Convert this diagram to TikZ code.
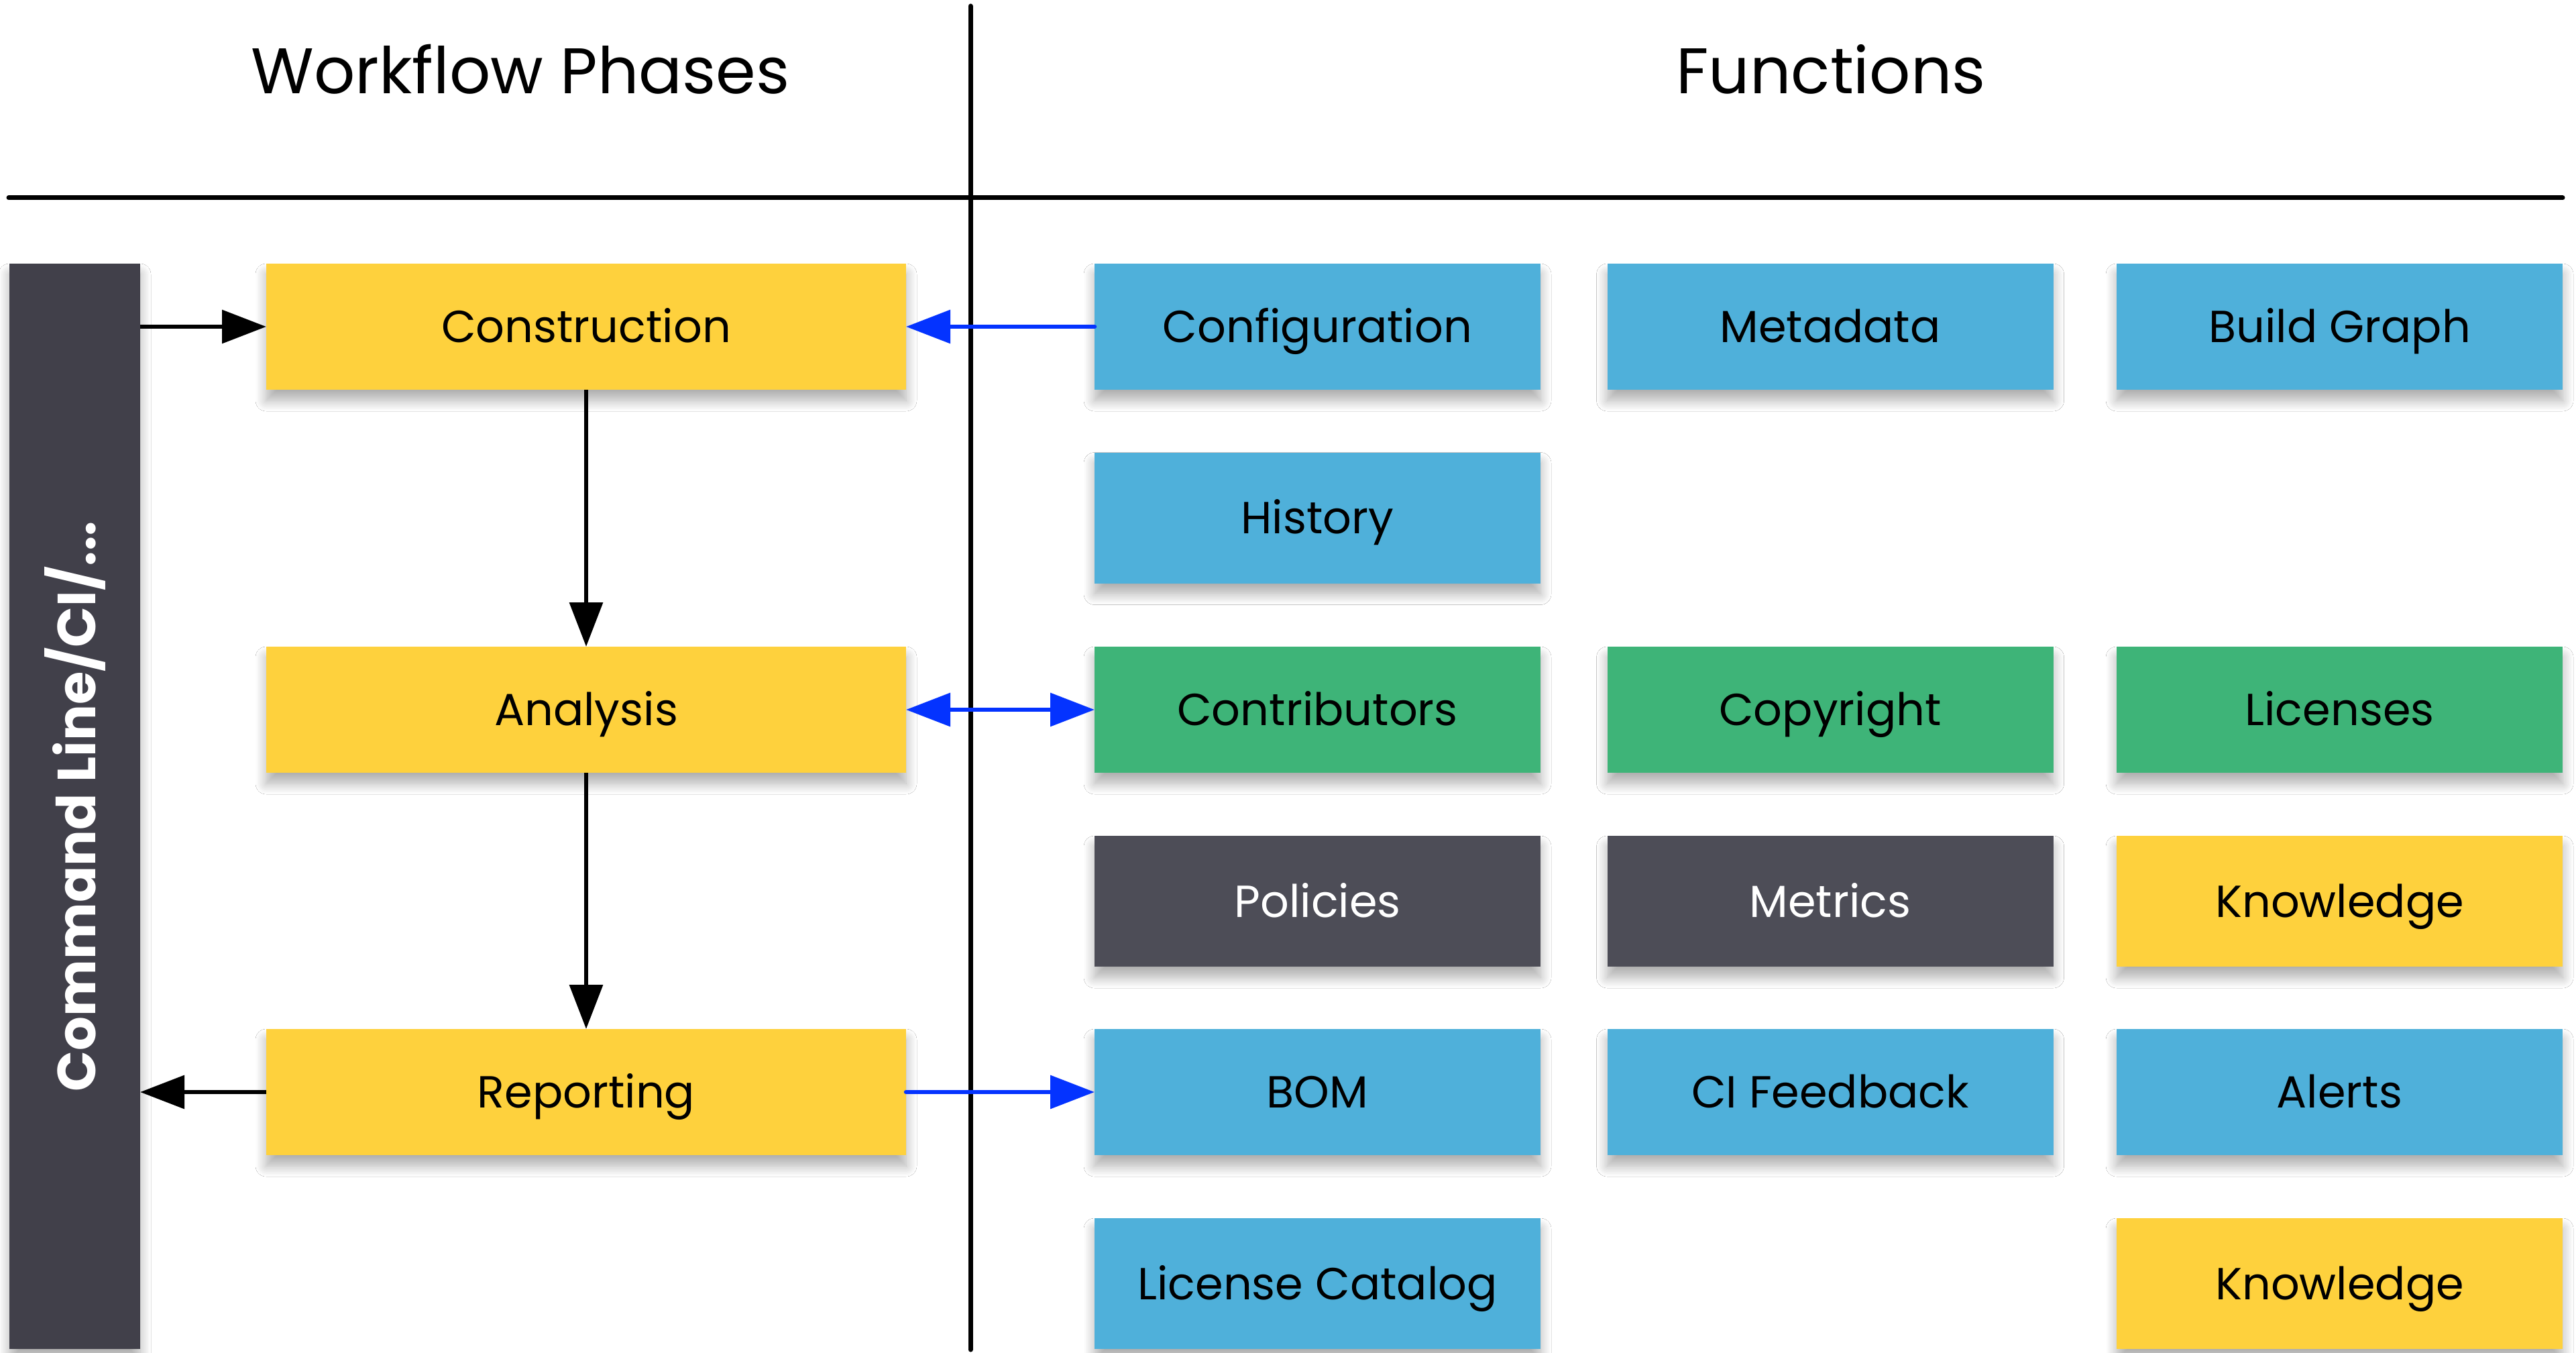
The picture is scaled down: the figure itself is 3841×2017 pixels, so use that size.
\documentclass[tikz,border=0pt]{standalone}
\usepackage{fontspec}
\setmainfont{Poppins}
\usetikzlibrary{arrows.meta}
\IfFileExists{tikzlibraryshadows.blur.code.tex}{%
  \usetikzlibrary{shadows.blur}%
  \tikzset{boxshade/.style={blur shadow={shadow xshift=0pt, shadow yshift=-16pt,
      shadow blur radius=16pt, shadow opacity=32, shadow blur steps=12}}}%
}{%
  \usetikzlibrary{shadows}%
  \tikzset{boxshade/.style={drop shadow={shadow xshift=0pt, shadow yshift=-12pt,
      opacity=0.2, fill=black}}}%
}

\definecolor{phaseyellow}{RGB}{254,209,61}
\definecolor{funcblue}{RGB}{79,176,218}
\definecolor{funcgreen}{RGB}{62,180,120}
\definecolor{funcdark}{RGB}{77,77,87}
\definecolor{bardark}{RGB}{65,64,74}
\definecolor{linkblue}{RGB}{4,51,255}

\tikzset{
  tile/.style={rectangle, inner sep=0pt, outer sep=0pt, boxshade,
    minimum width=665pt, minimum height=188pt,
    text height=47pt, text depth=0pt,
    font=\fontsize{67}{80}\selectfont, text=black},
  tall/.style={minimum height=195pt},
  phase/.style={tile, fill=phaseyellow, minimum width=954pt},
  fblue/.style={tile, fill=funcblue},
  fgreen/.style={tile, fill=funcgreen},
  fdark/.style={tile, fill=funcdark, text=white},
  fyellow/.style={tile, fill=phaseyellow},
  heading/.style={font=\fontsize{96}{110}\selectfont, anchor=base, inner sep=0pt},
  rule/.style={line width=7pt, line cap=round, black},
  flow/.style={line width=6.5pt, black, -{Triangle[length=66pt, width=49pt]}},
  link/.style={line width=6.5pt, linkblue, line cap=round,
    -{Triangle[length=66pt, width=49pt]}},
  twoway/.style={line width=6.5pt, linkblue,
    {Triangle[length=66pt, width=49pt]}-{Triangle[length=66pt, width=49pt]}},
}

\begin{document}
\begin{tikzpicture}[x=1pt, y=-1pt]
  \useasboundingbox (0,0) rectangle (3841,2017);
  \fill[white] (0,0) rectangle (3841,2017);

  % column headings
  \node[heading] (wphead) at (776,140) {Workflow Phases};
  \node[heading] (fnhead) at (2730,140) {Functions};

  % table rules
  \coordinate (hl) at (13,295);
  \coordinate (hr) at (3821,295);
  \coordinate (vt) at (1447,9);
  \coordinate (vb) at (1447,2012);
  \draw[rule] (hl) -- (hr);
  \draw[rule] (vt) -- (vb);

  % command line bar
  \node[rectangle, inner sep=0pt, outer sep=0pt, fill=bardark, boxshade,
        minimum width=195pt, minimum height=1618pt] (bar) at (111.5,1202) {};
  \node[rotate=90, text=white, inner sep=0pt,
        font=\bfseries\fontsize{80}{90}\selectfont] (bartext) at (bar.center) {Command Line/CI/...};

  % workflow phases
  \node[phase] (cons) at (874,487) {Construction};
  \node[phase] (ana) at (874,1058) {Analysis};
  \node[phase] (rep) at (874,1628) {Reporting};

  % functions, column 1
  \node[fblue] (config) at (1964.5,487) {Configuration};
  \node[fblue, tall] (hist) at (1964.5,772) {History};
  \node[fgreen] (contrib) at (1964.5,1058) {Contributors};
  \node[fdark, tall] (pol) at (1964.5,1343.5) {Policies};
  \node[fblue] (bom) at (1964.5,1628) {BOM};
  \node[fblue, tall] (lcat) at (1964.5,1913.5) {License Catalog};

  % functions, column 2
  \node[fblue] (meta) at (2729,487) {Metadata};
  \node[fgreen] (copy) at (2729,1058) {Copyright};
  \node[fdark, tall] (metr) at (2729,1343.5) {Metrics};
  \node[fblue] (cifb) at (2729,1628) {CI Feedback};

  % functions, column 3
  \node[fblue] (bgraph) at (3488.5,487) {Build Graph};
  \node[fgreen] (lic) at (3488.5,1058) {Licenses};
  \node[fyellow, tall] (know) at (3488.5,1343.5) {Knowledge};
  \node[fblue] (alerts) at (3488.5,1628) {Alerts};
  \node[fyellow, tall] (know2) at (3488.5,1913.5) {Knowledge};

  % phase flow
  \draw[flow] (bar.east |- cons.west) -- (cons.west);
  \draw[flow] (cons.south) -- (ana.north);
  \draw[flow] (ana.south) -- (rep.north);
  \draw[flow] (rep.west) -- (bar.east |- rep.west);

  % links to functions
  \draw[link] (config.west) -- (cons.east);
  \draw[twoway] (ana.east) -- (contrib.west);
  \draw[link] (rep.east) -- (bom.west);
\end{tikzpicture}
\end{document}
